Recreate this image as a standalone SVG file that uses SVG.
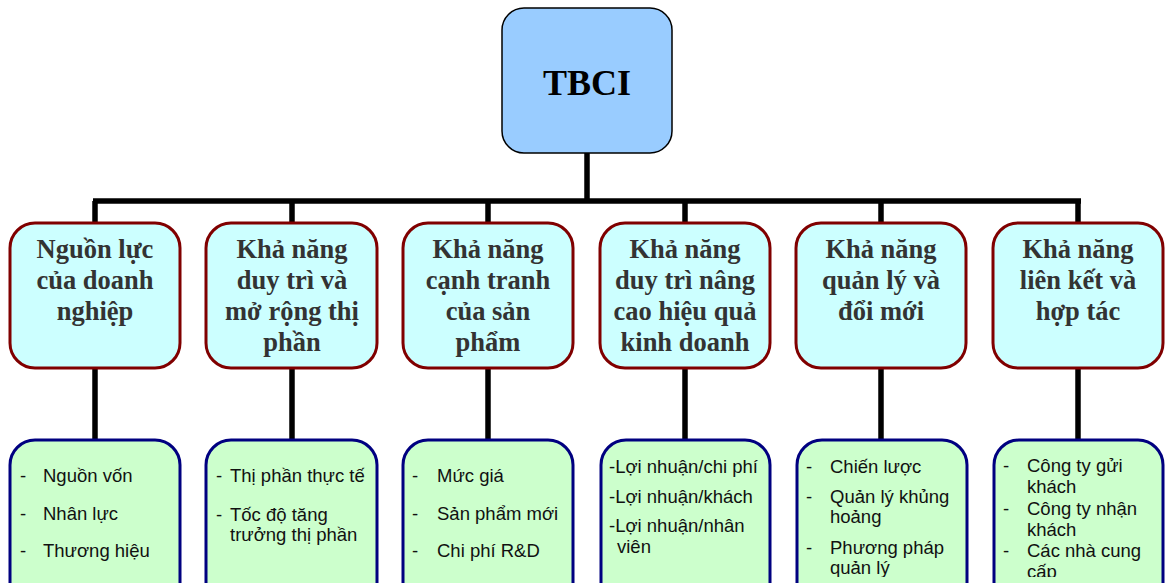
<svg xmlns="http://www.w3.org/2000/svg" width="1166" height="583" viewBox="0 0 1166 583">
  <defs>
    <style>
      .root { fill: #99CCFF; stroke: #000000; stroke-width: 1.5; }
      .root-text { font-family: "Liberation Serif", "Times New Roman", serif; font-weight: bold; font-size: 36px; fill: #000000; text-anchor: middle; }
      .cat { fill: #CCFFFF; stroke: #800000; stroke-width: 3; }
      .cat-text { font-family: "Liberation Serif", "Times New Roman", serif; font-weight: bold; font-size: 26.5px; fill: #333333; text-anchor: middle; }
      .item { fill: #CCFFCC; stroke: #000080; stroke-width: 3; }
      .item-text { font-family: "Liberation Sans", Arial, sans-serif; font-size: 18.5px; fill: #111111; }
      .link { stroke: #000000; stroke-width: 5.5; fill: none; }
    </style>
    <clipPath id="itemClip">
      <rect x="0" y="440" width="1166" height="137"/>
    </clipPath>
  </defs>

  <rect width="1166" height="583" fill="#FFFFFF"/>

  <!-- connectors -->
  <g id="connectors" class="link">
    <line x1="587" y1="153" x2="587" y2="201"/>
    <line x1="93" y1="201" x2="1081" y2="201"/>
    <line x1="95" y1="201" x2="95" y2="223"/>
    <line x1="292" y1="201" x2="292" y2="223"/>
    <line x1="488" y1="201" x2="488" y2="223"/>
    <line x1="685" y1="201" x2="685" y2="223"/>
    <line x1="881" y1="201" x2="881" y2="223"/>
    <line x1="1078" y1="201" x2="1078" y2="223"/>
    <line x1="95" y1="368" x2="95" y2="440"/>
    <line x1="292" y1="368" x2="292" y2="440"/>
    <line x1="488" y1="368" x2="488" y2="440"/>
    <line x1="685" y1="368" x2="685" y2="440"/>
    <line x1="881" y1="368" x2="881" y2="440"/>
    <line x1="1078" y1="368" x2="1078" y2="440"/>
  </g>

  <!-- root -->
  <g id="tbci">
    <rect class="root" x="502" y="8" width="170" height="145" rx="22" ry="22"/>
    <text class="root-text" x="587" y="95">TBCI</text>
  </g>

  <!-- categories -->
  <g id="cat-nguon-luc">
    <rect class="cat" x="10" y="223" width="170" height="145" rx="25" ry="25"/>
    <text class="cat-text" x="95" y="258">Nguồn lực</text>
    <text class="cat-text" x="95" y="289">của doanh</text>
    <text class="cat-text" x="95" y="320">nghiệp</text>
  </g>
  <g id="cat-thi-phan">
    <rect class="cat" x="206" y="223" width="171" height="145" rx="25" ry="25"/>
    <text class="cat-text" x="292" y="258">Khả năng</text>
    <text class="cat-text" x="292" y="289">duy trì và</text>
    <text class="cat-text" x="292" y="320">mở rộng thị</text>
    <text class="cat-text" x="292" y="351">phần</text>
  </g>
  <g id="cat-canh-tranh">
    <rect class="cat" x="403" y="223" width="170" height="145" rx="25" ry="25"/>
    <text class="cat-text" x="488" y="258">Khả năng</text>
    <text class="cat-text" x="488" y="289">cạnh tranh</text>
    <text class="cat-text" x="488" y="320">của sản</text>
    <text class="cat-text" x="488" y="351">phẩm</text>
  </g>
  <g id="cat-hieu-qua">
    <rect class="cat" x="600" y="223" width="170" height="145" rx="25" ry="25"/>
    <text class="cat-text" x="685" y="258">Khả năng</text>
    <text class="cat-text" x="685" y="289">duy trì nâng</text>
    <text class="cat-text" x="685" y="320">cao hiệu quả</text>
    <text class="cat-text" x="685" y="351">kinh doanh</text>
  </g>
  <g id="cat-quan-ly">
    <rect class="cat" x="796" y="223" width="170" height="145" rx="25" ry="25"/>
    <text class="cat-text" x="881" y="258">Khả năng</text>
    <text class="cat-text" x="881" y="289">quản lý và</text>
    <text class="cat-text" x="881" y="320">đổi mới</text>
  </g>
  <g id="cat-lien-ket">
    <rect class="cat" x="993" y="223" width="170" height="145" rx="25" ry="25"/>
    <text class="cat-text" x="1078" y="258">Khả năng</text>
    <text class="cat-text" x="1078" y="289">liên kết và</text>
    <text class="cat-text" x="1078" y="320">hợp tác</text>
  </g>

  <!-- detail lists -->
  <g id="items-nguon-luc">
    <rect class="item" x="10" y="440" width="170" height="170" rx="25" ry="25"/>
    <g class="item-text" clip-path="url(#itemClip)">
      <text x="20" y="482">-</text><text x="43" y="482">Nguồn vốn</text>
      <text x="20" y="520">-</text><text x="43" y="520">Nhân lực</text>
      <text x="20" y="557">-</text><text x="43" y="557">Thương hiệu</text>
    </g>
  </g>
  <g id="items-thi-phan">
    <rect class="item" x="206" y="440" width="171" height="170" rx="25" ry="25"/>
    <g class="item-text" clip-path="url(#itemClip)">
      <text x="216" y="482">-</text><text x="230" y="482">Thị phần thực tế</text>
      <text x="216" y="521">-</text><text x="230" y="521">Tốc độ tăng</text>
      <text x="230" y="541">trưởng thị phần</text>
    </g>
  </g>
  <g id="items-canh-tranh">
    <rect class="item" x="403" y="440" width="170" height="170" rx="25" ry="25"/>
    <g class="item-text" clip-path="url(#itemClip)">
      <text x="412" y="482">-</text><text x="437" y="482">Mức giá</text>
      <text x="412" y="520">-</text><text x="437" y="520">Sản phẩm mới</text>
      <text x="412" y="557">-</text><text x="437" y="557">Chi phí R&amp;D</text>
    </g>
  </g>
  <g id="items-hieu-qua">
    <rect class="item" x="601" y="440" width="169" height="170" rx="25" ry="25"/>
    <g class="item-text" clip-path="url(#itemClip)">
      <text x="609" y="473">-Lợi nhuận/chi phí</text>
      <text x="609" y="503">-Lợi nhuận/khách</text>
      <text x="609" y="532">-Lợi nhuận/nhân</text>
      <text x="617" y="553">viên</text>
    </g>
  </g>
  <g id="items-quan-ly">
    <rect class="item" x="797" y="440" width="170" height="170" rx="25" ry="25"/>
    <g class="item-text" clip-path="url(#itemClip)">
      <text x="806" y="473">-</text><text x="830" y="473">Chiến lược</text>
      <text x="806" y="503">-</text><text x="830" y="503">Quản lý khủng</text>
      <text x="830" y="523">hoảng</text>
      <text x="806" y="554">-</text><text x="830" y="554">Phương pháp</text>
      <text x="830" y="574">quản lý</text>
    </g>
  </g>
  <g id="items-lien-ket">
    <rect class="item" x="994" y="440" width="169" height="170" rx="25" ry="25"/>
    <g class="item-text" clip-path="url(#itemClip)">
      <text x="1003" y="472">-</text><text x="1027" y="472">Công ty gửi</text>
      <text x="1027" y="493">khách</text>
      <text x="1003" y="515">-</text><text x="1027" y="515">Công ty nhận</text>
      <text x="1027" y="536">khách</text>
      <text x="1003" y="557">-</text><text x="1027" y="557">Các nhà cung</text>
      <text x="1027" y="578">cấp</text>
    </g>
  </g>
</svg>
